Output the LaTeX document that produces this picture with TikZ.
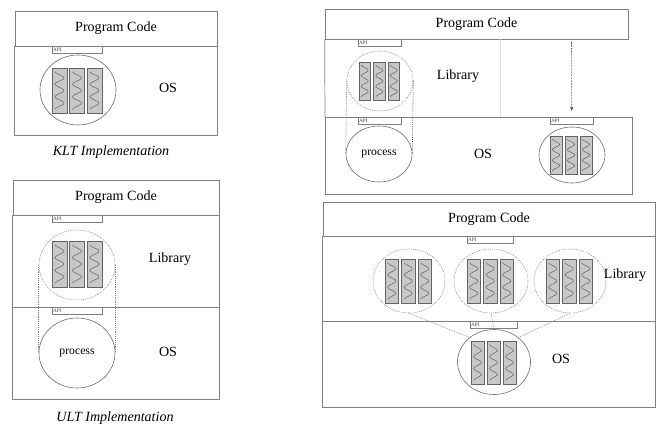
\documentclass[tikz,border=0pt]{standalone}
\usepackage{fontspec}
\setmainfont{Liberation Serif}
\usetikzlibrary{shapes.geometric,arrows.meta}
\definecolor{linec}{RGB}{128,128,128}
\definecolor{ringc}{RGB}{105,105,105}
\definecolor{thrfill}{RGB}{200,200,200}
\definecolor{thrline}{RGB}{100,100,100}
\begin{document}
\begin{tikzpicture}[x=0.03cm,y=-0.03cm,font=\fontsize{12}{14}\selectfont,>={Latex[length=3.5pt,width=3pt]}]
  \def\px{0.03cm}	% one pixel of the sketch
  \tikzstyle{panel}=[draw=linec,line width=0.6pt]
  \tikzstyle{codebox}=[panel,rectangle,inner sep=0pt]
  \tikzstyle{api}=[draw=linec,rectangle,anchor=north west,inner sep=0pt,minimum height=7.5*\px,
    label={[anchor=west,inner sep=0.8pt,font=\fontsize{4.5}{5}\selectfont,text=black!75]west:API}]
  \tikzstyle{ring}=[draw=ringc,ellipse,inner sep=0pt,line width=0.5pt]
  \tikzstyle{lib}=[ring,draw=linec,dash pattern=on 0.7pt off 0.9pt]
  \tikzstyle{link}=[draw=linec,dash pattern=on 0.7pt off 0.9pt,line width=0.5pt]
  \tikzstyle{seam}=[draw=black!12,line width=0.5pt]
  \tikzstyle{move}=[draw=black!65,dash pattern=on 1.5pt off 1pt,line width=0.5pt,shorten >=5pt]
  \tikzstyle{thread}=[draw=thrline,fill=thrfill,line width=0.6pt]
  \tikzstyle{wave}=[draw=thrline,line width=0.45pt]
  \tikzstyle{caption}=[font=\fontsize{12}{14}\selectfont\itshape]
  \def\threads#1#2#3#4#5{% x, y, width, height, stride
    \foreach \k in {0,1,2}{
      \draw[thread] ({#1+\k*#5},#2) rectangle ++(#3,#4);
      \draw[wave] plot[domain=0:1,samples=40,smooth]
        ({#1+\k*#5+#3/2-0.3*#3*cos(1080*\x)},{#2+#4*(0.08+0.84*\x)});
    }}
  \useasboundingbox (0,0) rectangle (664,433);
  % KLT
  \node[codebox,minimum width=202*\px,minimum height=35*\px] (kcode) at (116,28.5) {Program Code};
  \draw[panel] (kcode.south west) rectangle (217,135);
  \node[api,minimum width=50*\px] (kapi) at (52,46) {};
  \node[ring,minimum width=76*\px,minimum height=70*\px] (kpool) at (78,90) {};
  \threads{52}{68}{15}{45}{17.5}
  \node (kos) at (168,88) {OS};
  \node[caption] (kcap) at (111,152) {KLT Implementation};
  % ULT
  \node[codebox,minimum width=206*\px,minimum height=35*\px] (ucode) at (116,197.5) {Program Code};
  \draw[panel] (ucode.south west) rectangle (219,399);
  \draw[panel] (13,307) -- (219,307);
  \node[api,minimum width=50*\px] (uapi) at (52,215) {};
  \node[lib,minimum width=76*\px,minimum height=70*\px] (upool) at (77,265) {};
  \threads{52}{241}{15}{46}{17.5}
  \node[api,minimum width=50*\px] (uapi2) at (52,307) {};
  \node[ring,minimum width=76*\px,minimum height=70*\px] (uproc) at (77,353) {\fontsize{10}{12}\selectfont process};
  \draw[link] (upool.west) -- (uproc.west);
  \draw[link] (upool.east) -- (uproc.east);
  \node (ulib) at (170,259) {Library};
  \node (uos) at (168,352) {OS};
  \node[caption] (ucap) at (115,418) {ULT Implementation};
  % hybrid, top
  \node[codebox,minimum width=303*\px,minimum height=30*\px] (tcode) at (476.5,24) {Program Code};
  \draw[panel] (tcode.south west) -- (325,117);
  \draw[seam] (500,39) -- (500,117);
  \draw[panel] (325,117) rectangle (632,194);
  \node[api,minimum width=43*\px] (tapi) at (358,39) {};
  \node[lib,minimum width=66*\px,minimum height=60*\px] (tpool) at (380,81) {};
  \threads{359}{62}{11.5}{38}{14.5}
  \node[api,minimum width=43*\px] (tapi2) at (358,117) {};
  \node[ring,minimum width=66*\px,minimum height=56*\px] (tproc) at (379,154) {\fontsize{10}{12}\selectfont process};
  \draw[link] (tpool.west) -- (tproc.west);
  \draw[link,draw=black!70] (tpool.east) -- (tproc.east);
  \node (tlib) at (458,76) {Library};
  \node (tos) at (483,154) {OS};
  \node[api,minimum width=43*\px] (tapi3) at (550,117) {};
  \node[ring,minimum width=66*\px,minimum height=56*\px] (tkern) at (572,155) {};
  \threads{550}{136}{12}{38}{15}
  \coordinate (tmove) at (571.5,42);
  \draw[move,->] (tmove) -- (tapi3.north);
  % hybrid, bottom
  \node[codebox,minimum width=332*\px,minimum height=34*\px] (bcode) at (489,219) {Program Code};
  \draw[panel] (bcode.south west) rectangle (655,407);
  \draw[panel] (323,321) -- (655,321);
  \node[api,minimum width=46*\px] (bapi) at (467,236) {};
  \node[lib,minimum width=72*\px,minimum height=64*\px] (bpool1) at (409,281) {};
  \node[lib,minimum width=74*\px,minimum height=64*\px] (bpool2) at (491,281) {};
  \node[lib,minimum width=72*\px,minimum height=64*\px] (bpool3) at (570,281) {};
  \threads{385}{259}{13.5}{44}{16.5}
  \threads{467}{259}{13.5}{44}{16.5}
  \threads{546}{259}{13.5}{44}{16.5}
  \node (blib) at (625,275) {Library};
  \node[api,minimum width=47*\px] (bapi2) at (470,321) {};
  \node[ring,minimum width=73*\px,minimum height=65*\px] (bkern) at (494,362) {};
  \threads{471}{341}{13}{43}{16}
  \node (bos) at (561,359) {OS};
  \draw[link] (bpool1.south) -- (bkern.135);
  \draw[link] (bpool2.south) -- (bkern.north);
  \draw[link] (bpool3.south) -- (bkern.45);
\end{tikzpicture}
\end{document}
